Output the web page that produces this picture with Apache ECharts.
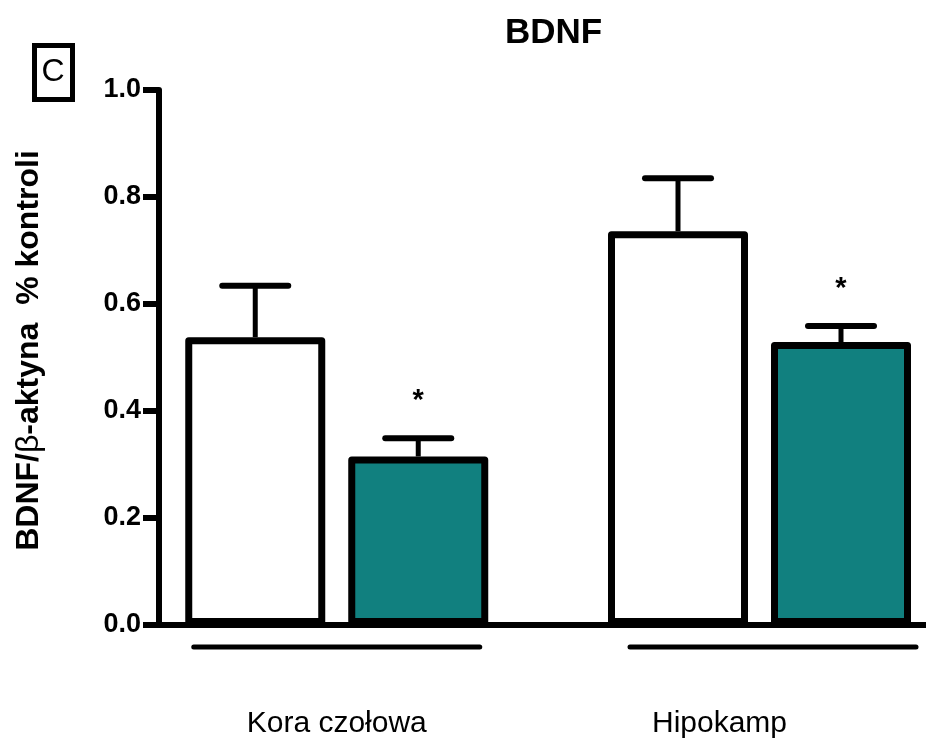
<!DOCTYPE html>
<html>
<head>
<meta charset="utf-8">
<script src="https://cdn.jsdelivr.net/npm/echarts@6/dist/echarts.min.js"></script>
<style>
  html, body { margin: 0; padding: 0; background: #fff; }
  #chart { width: 926px; height: 738px; }
</style>
</head>
<body>
<div id="chart"></div>
<script>
// ---- data ----
const categories = ['Kora czołowa', 'Hipokamp'];
const controlMean = [0.538, 0.736];
const controlSem = [0.096, 0.099];
const treatedMean = [0.315, 0.529];
const treatedSem = [0.034, 0.030];
const treatedSig = ['*', '*'];
const yMin = 0, yMax = 1.0, yStep = 0.2;
const chartTitle = 'BDNF';
const panelLetter = 'C';

// ---- style ----
const FONT = "'Liberation Sans', Arial, sans-serif";
const TEAL = '#11807f';
const BAR_W = 140;
const HALF_PAIR = 81.5;
const GAP_RATIO = (2 * HALF_PAIR - BAR_W) / BAR_W;

const chart = echarts.init(document.getElementById('chart'), null, { renderer: 'canvas' });

function errorRenderer(side, sigArr) {
  return function (params, api) {
    const i = api.value(0);
    const m = api.value(1);
    const s = api.value(2);
    const base = api.coord([i, m]);
    const top = api.coord([i, m + s]);
    const x = base[0] + side * HALF_PAIR;
    const children = [
      { type: 'line', shape: { x1: x, y1: base[1], x2: x, y2: top[1] },
        style: { stroke: '#000', lineWidth: 5 } },
      { type: 'line', shape: { x1: x - 33, y1: top[1], x2: x + 33, y2: top[1] },
        style: { stroke: '#000', lineWidth: 6, lineCap: 'round' } }
    ];
    if (sigArr && sigArr[params.dataIndex]) {
      children.push({ type: 'text', x: x, y: top[1] - 37,
        style: { text: sigArr[params.dataIndex], fill: '#000', font: 'bold 29px ' + FONT,
                 align: 'center', verticalAlign: 'middle' } });
    }
    return { type: 'group', children: children };
  };
}

const underlineShift = [0, 13.5];

const option = {
  animation: false,
  backgroundColor: '#fff',
  title: {
    text: chartTitle,
    left: 500, top: 11,
    textStyle: { fontFamily: FONT, fontWeight: 'bold', fontSize: 35, color: '#000' }
  },
  grid: [
    { left: 159, right: 0, top: 90, bottom: 113, containLabel: false, outerBoundsMode: 'none' },
    { left: 125.375, width: 845.5, top: 90, bottom: 113, containLabel: false, outerBoundsMode: 'none' }
  ],
  xAxis: [
    { gridIndex: 0, type: 'value', min: 0, max: 1,
      axisLine: { show: true, lineStyle: { color: '#000', width: 6 } },
      axisTick: { show: false }, axisLabel: { show: false }, splitLine: { show: false } },
    { gridIndex: 1, type: 'category', data: categories,
      axisLine: { show: false }, axisTick: { show: false }, splitLine: { show: false },
      axisLabel: {
        margin: 84, color: '#000', fontSize: 30, fontFamily: FONT,
        formatter: function (v, idx) { return idx === 0 ? '{a|' + v + '}' : '{b|' + v + '}'; },
        rich: {
          a: { fontSize: 30, fontFamily: FONT, color: '#000' },
          b: { fontSize: 30, fontFamily: FONT, color: '#000', padding: [0, 80, 0, 0] }
        }
      } }
  ],
  yAxis: [
    { gridIndex: 0, type: 'value', min: yMin, max: yMax, interval: yStep,
      axisLine: { show: true, lineStyle: { color: '#000', width: 6 } },
      axisTick: { show: true, length: 16, lineStyle: { color: '#000', width: 6 } },
      splitLine: { show: false },
      axisLabel: { margin: 18, color: '#000', fontSize: 27, fontWeight: 'bold', fontFamily: FONT,
        formatter: function (v) { return v.toFixed(1); } },
      name: 'BDNF/{g|β}-aktyna  % kontroli',
      nameLocation: 'middle', nameGap: 114, nameRotate: 90,
      nameTextStyle: { color: '#000', fontSize: 32, fontWeight: 'bold', fontFamily: FONT,
        padding: [0, 0, 0, 14],
        rich: { g: { color: '#000', fontSize: 32, fontWeight: 'normal', fontFamily: FONT } } } },
    { gridIndex: 1, type: 'value', min: yMin, max: yMax, show: false }
  ],
  series: [
    { type: 'bar', xAxisIndex: 1, yAxisIndex: 1, data: controlMean,
      barWidth: BAR_W, barGap: (GAP_RATIO * 100) + '%',
      itemStyle: { color: '#fff', borderColor: '#000', borderWidth: 7, borderJoin: 'round' }, z: 2 },
    { type: 'bar', xAxisIndex: 1, yAxisIndex: 1, data: treatedMean,
      barWidth: BAR_W, barGap: (GAP_RATIO * 100) + '%',
      itemStyle: { color: TEAL, borderColor: '#000', borderWidth: 7, borderJoin: 'round' }, z: 2 },
    { type: 'custom', xAxisIndex: 1, yAxisIndex: 1, z: 3,
      data: controlMean.map((m, i) => [i, m, controlSem[i]]),
      encode: { x: 0, y: 1 },
      renderItem: errorRenderer(-1, null) },
    { type: 'custom', xAxisIndex: 1, yAxisIndex: 1, z: 3,
      data: treatedMean.map((m, i) => [i, m, treatedSem[i]]),
      encode: { x: 0, y: 1 },
      renderItem: errorRenderer(1, treatedSig) },
    { type: 'custom', xAxisIndex: 1, yAxisIndex: 1, z: 3,
      data: categories.map((c, i) => [i, 0]),
      encode: { x: 0, y: 1 },
      renderItem: function (params, api) {
        const i = api.value(0);
        const p = api.coord([i, 0]);
        const cx = p[0] + underlineShift[params.dataIndex];
        const y = p[1] + 22;
        return { type: 'line', shape: { x1: cx - 143, y1: y, x2: cx + 143, y2: y },
          style: { stroke: '#000', lineWidth: 5, lineCap: 'round' } };
      } }
  ],
  graphic: [
    { type: 'rect', left: 32, top: 43, z: 10,
      shape: { x: 0, y: 0, width: 38, height: 54 },
      style: { fill: '#fff', stroke: '#000', lineWidth: 5 } },
    { type: 'text', x: 53, y: 72, z: 11,
      style: { text: panelLetter, fill: '#000', font: '32px ' + FONT, align: 'center', verticalAlign: 'middle' } }
  ]
};

chart.setOption(option);
</script>
</body>
</html>
